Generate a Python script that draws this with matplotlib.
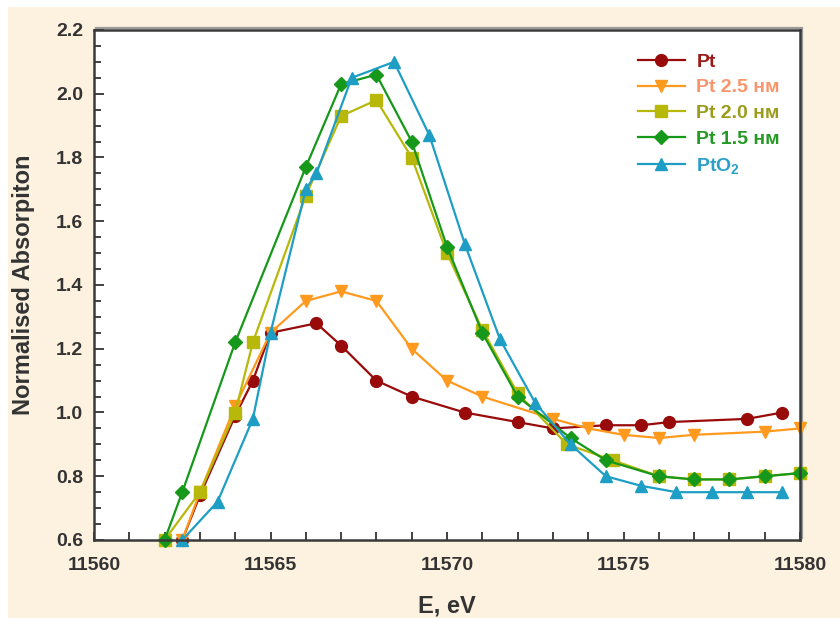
"""
Pt L3-edge XANES: normalised absorption of bulk Pt, Pt nanoparticles
of three sizes and PtO2 plotted against photon energy.
"""

import matplotlib
matplotlib.use('Agg')
import matplotlib.pyplot as plt
from matplotlib.patches import Rectangle
from matplotlib.ticker import MultipleLocator

plt.rcParams['font.family'] = ['Liberation Sans', 'DejaVu Sans']
plt.rcParams['font.weight'] = 'bold'
plt.rcParams['mathtext.fontset'] = 'custom'
plt.rcParams['mathtext.rm'] = 'Liberation Sans:bold'
plt.rcParams['mathtext.bf'] = 'Liberation Sans:bold'
plt.rcParams['mathtext.default'] = 'bf'

# energies (eV) and normalised absorption for each sample
pt_e = [11562.5, 11563, 11564, 11564.5, 11565, 11566.3, 11567, 11568, 11569,
        11570.5, 11572, 11573, 11574.5, 11575.5, 11576.3, 11578.5, 11579.5]
pt_mu = [0.60, 0.74, 0.99, 1.10, 1.25, 1.28, 1.21, 1.10, 1.05,
         1.00, 0.97, 0.95, 0.96, 0.96, 0.97, 0.98, 1.00]

pt25_e = [11562.5, 11563, 11564, 11565, 11566, 11567, 11568, 11569, 11570,
          11571, 11573, 11574, 11575, 11576, 11577, 11579, 11580]
pt25_mu = [0.60, 0.75, 1.02, 1.25, 1.35, 1.38, 1.35, 1.20, 1.10,
           1.05, 0.98, 0.95, 0.93, 0.92, 0.93, 0.94, 0.95]

pt20_e = [11562, 11563, 11564, 11564.5, 11566, 11567, 11568, 11569, 11570,
          11571, 11572, 11573.4, 11574.7, 11576, 11577, 11578, 11579, 11580]
pt20_mu = [0.60, 0.75, 1.00, 1.22, 1.68, 1.93, 1.98, 1.80, 1.50,
           1.26, 1.06, 0.90, 0.85, 0.80, 0.79, 0.79, 0.80, 0.81]

pt15_e = [11562, 11562.5, 11564, 11566, 11567, 11568, 11569, 11570, 11571,
          11572, 11573.5, 11574.5, 11576, 11577, 11578, 11579, 11580]
pt15_mu = [0.60, 0.75, 1.22, 1.77, 2.03, 2.06, 1.85, 1.52, 1.25,
           1.05, 0.92, 0.85, 0.80, 0.79, 0.79, 0.80, 0.81]

pto2_e = [11562.5, 11563.5, 11564.5, 11565, 11566, 11566.3, 11567.3, 11568.5,
          11569.5, 11570.5, 11571.5, 11572.5, 11573.5, 11574.5, 11575.5,
          11576.5, 11577.5, 11578.5, 11579.5]
pto2_mu = [0.60, 0.72, 0.98, 1.25, 1.70, 1.75, 2.05, 2.10,
           1.87, 1.53, 1.23, 1.03, 0.90, 0.80, 0.77,
           0.75, 0.75, 0.75, 0.75]

labels = ['Pt', 'Pt 2.5 нм', 'Pt 2.0 нм', 'Pt 1.5 нм', 'PtO$_2$']
line_colors = ['#990a0a', '#ff9a1e', '#b7b80a', '#16981a', '#1e9ec4']
text_colors = ['#9a1a1a', '#f9956c', '#9c9c1c', '#249a24', '#2aa0c8']
markers = ['o', 'v', 's', 'D', '^']
sizes = [8.5, 8.5, 8, 7.5, 8.5]


def main():
    fig = plt.figure(figsize=(8.4, 6.18), dpi=100, facecolor='white')
    W, H = 840.0, 618.0

    # cream panel behind everything, leaving a thin white margin
    fig.patches.append(Rectangle((8 / W, 0), 1, 1 - 7 / H, transform=fig.transFigure,
                                 facecolor='#fdf1df', edgecolor='none', zorder=-10))

    left, right, top, bottom = 94, 800, 30, 540
    ax = fig.add_axes([left / W, 1 - bottom / H, (right - left) / W, (bottom - top) / H])
    # grey shadow along the top and right of the frame
    fig.patches.append(Rectangle(((left + 2) / W, 1 - (bottom - 2) / H),
                                 (right - left) / W, (bottom - top) / H,
                                 transform=fig.transFigure, facecolor='none',
                                 edgecolor='#9a9a9a', linewidth=1.6, zorder=-5))
    ax.set_facecolor('white')

    series = [(pt_e, pt_mu), (pt25_e, pt25_mu), (pt20_e, pt20_mu),
              (pt15_e, pt15_mu), (pto2_e, pto2_mu)]
    for (e, mu), lab, c, m, s in zip(series, labels, line_colors, markers, sizes):
        ax.plot(e, mu, color=c, marker=m, markersize=s, markerfacecolor=c,
                markeredgecolor=c, linewidth=1.6, label=lab, clip_on=False)

    ax.set_xlim(11560, 11580)
    ax.set_ylim(0.6, 2.2)
    ax.xaxis.set_major_locator(MultipleLocator(5))
    ax.xaxis.set_minor_locator(MultipleLocator(1))
    ax.yaxis.set_major_locator(MultipleLocator(0.2))
    ax.yaxis.set_minor_locator(MultipleLocator(0.05))
    ax.yaxis.set_major_formatter(plt.FormatStrFormatter('%.1f'))

    ax.tick_params(which='both', direction='in', color='#333333', width=1.3,
                   labelsize=14, labelcolor='#333333', top=False, right=False)
    ax.tick_params(axis='x', which='both', length=6, pad=12)
    ax.tick_params(axis='y', which='major', length=7, pad=8)
    ax.tick_params(axis='y', which='minor', length=5)

    for sp in ax.spines.values():
        sp.set_color('#3a3a3a')
        sp.set_linewidth(1.8)

    ax.set_xlabel('E, eV', fontsize=17, color='#333333', fontweight='bold')
    ax.set_ylabel('Normalised Absorpiton', fontsize=17, color='#333333', fontweight='bold')
    ax.xaxis.set_label_coords(0.5, -0.106)
    ax.yaxis.set_label_coords(-0.084, 0.5)

    leg = ax.legend(loc='upper left', bbox_to_anchor=(638 / W, 1 - 53 / H),
                    bbox_transform=fig.transFigure, frameon=False, fontsize=14,
                    borderpad=0, borderaxespad=0, handlelength=2.4,
                    handletextpad=0.6, labelspacing=0.42)
    for t, c in zip(leg.get_texts(), text_colors):
        t.set_color(c)
        t.set_fontweight('bold')

    fig.savefig('out.png', dpi=100, facecolor=fig.get_facecolor())


main()
